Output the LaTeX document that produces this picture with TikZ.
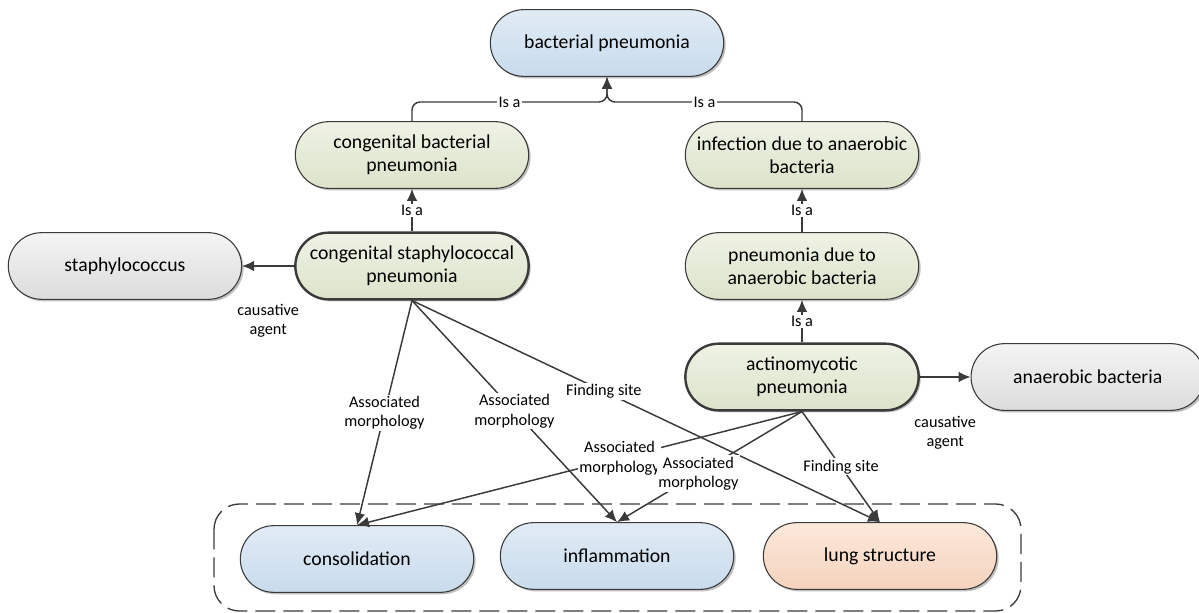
\documentclass[tikz,border=0pt]{standalone}
\usepackage{fontspec}
\setmainfont{Carlito}
\usepackage{xcolor}
\usepackage{tikz}
\usetikzlibrary{positioning, arrows.meta, shadows}

\definecolor{blueTop}{HTML}{E1EBF5}
\definecolor{blueBot}{HTML}{C8DBEC}
\definecolor{greenTop}{HTML}{EFF2E5}
\definecolor{greenBot}{HTML}{DCE3CA}
\definecolor{grayTop}{HTML}{F4F4F4}
\definecolor{grayBot}{HTML}{DCDCDC}
\definecolor{orangeTop}{HTML}{FCE9DC}
\definecolor{orangeBot}{HTML}{F5D2BC}
\definecolor{lineGray}{HTML}{3A3A3A}

\begin{document}
\begin{tikzpicture}[x=0.75pt, y=0.75pt,
	concept/.style={rectangle, draw=lineGray, line width=0.8pt, rounded corners=25pt, minimum width=175pt, minimum height=50pt, inner sep=2pt, align=center, font=\fontsize{14.8}{17.5}\selectfont, drop shadow={shadow xshift=1.5pt, shadow yshift=-1.5pt, opacity=0.25, fill=black}},
	blueconcept/.style={concept, top color=blueTop, bottom color=blueBot},
	greenconcept/.style={concept, top color=greenTop, bottom color=greenBot},
	grayconcept/.style={concept, top color=grayTop, bottom color=grayBot},
	orangeconcept/.style={concept, top color=orangeTop, bottom color=orangeBot},
	focus/.style={line width=1.8pt},
	rel/.style={-{Latex[length=9pt, width=8pt]}, draw=lineGray, line width=1.1pt},
	lbl/.style={fill=white, inner sep=1pt, align=center, font=\fontsize{12.2}{14.5}\selectfont},
	groupbox/.style={draw=lineGray, line width=1pt, dash pattern=on 15pt off 6pt, rounded corners=19pt}
]
	\useasboundingbox (0,0) rectangle (1199,-613);

	% group of findings
	\draw[groupbox] (214,-504) rectangle (1021,-611);

	\node[blueconcept] (bp) at (607,-43) {bacterial pneumonia};
	\node[greenconcept] (cbp) at (412,-155) {congenital bacterial\\pneumonia};
	\node[greenconcept] (iab) at (802,-155) {infection due to anaerobic\\bacteria};
	\node[greenconcept] (pab) at (802,-266) {pneumonia due to\\anaerobic bacteria};
	\node[greenconcept, focus] (csp) at (412,-266) {congenital staphylococcal\\pneumonia};
	\node[grayconcept, left=39pt of csp] (staph) {staphylococcus};
	\node[greenconcept, focus] (act) at (802,-377) {actinomycotic\\pneumonia};
	\node[grayconcept, right=38pt of act] (anb) {anaerobic bacteria};

	\node[blueconcept] (cons) at (357,-559) {consolidation};
	\node[blueconcept] (infl) at (617,-556) {inflammation};
	\node[orangeconcept] (lung) at (880,-556) {lung structure};

	\coordinate (isajoin) at (607,-102);

	\draw[rel, rounded corners=6pt] (cbp.north) |- node[lbl, pos=0.75] {Is a} (isajoin) -- (bp.south);
	\draw[rel, rounded corners=6pt] (iab.north) |- node[lbl, pos=0.75] {Is a} (isajoin) -- (bp.south);
	\draw[rel] (csp) -- node[lbl] {Is a} (cbp);
	\draw[rel] (pab) -- node[lbl] {Is a} (iab);
	\draw[rel] (act) -- node[lbl] {Is a} (pab);

	\draw[rel] (csp) -- node[lbl, below=27pt] {causative\\agent} (staph);
	\draw[rel] (act) -- node[lbl, below=28pt] {causative\\agent} (anb);

	\draw[rel] (csp.south) -- node[lbl] {Associated\\morphology} (cons.north);
	\draw[rel] (csp.south) -- node[lbl] {Associated\\morphology} (infl.north);
	\draw[rel] (csp.south) -- node[lbl, pos=0.41] {Finding site} (lung.north);
	\draw[rel] (act.south) -- node[lbl, pos=0.41] {Associated\\morphology} (cons.north);
	\draw[rel] (act.south) -- node[lbl, pos=0.56] {Associated\\morphology} (infl.north);
	\draw[rel] (act.south) -- node[lbl] {Finding site} (lung.north);

\end{tikzpicture}
\end{document}
